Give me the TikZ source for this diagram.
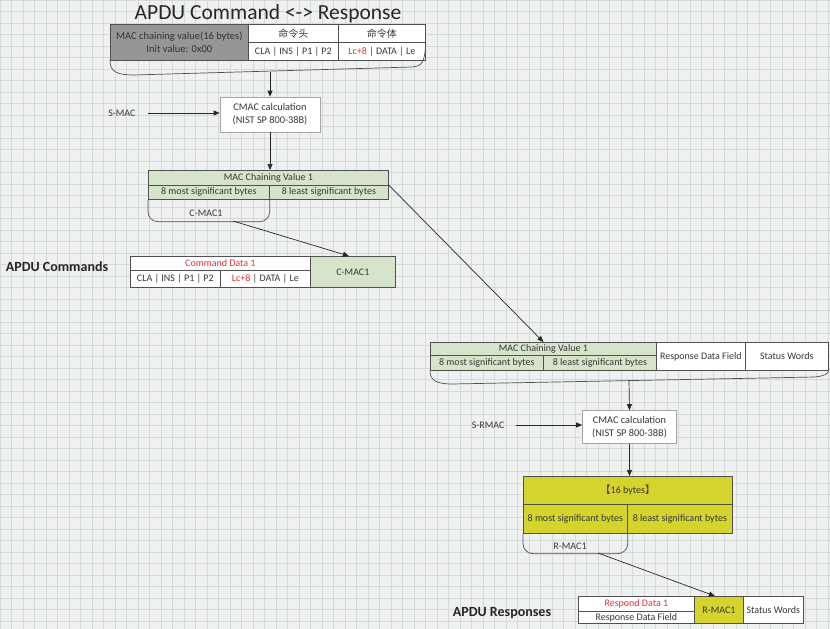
\documentclass[tikz,border=0pt]{standalone}
\usepackage{fontspec}
\setmainfont{Carlito}
\newfontfamily\cjk{Noto Sans CJK SC}
\usetikzlibrary{arrows.meta}
\definecolor{bgc}{RGB}{239,240,240}
\definecolor{gridc}{RGB}{214,217,217}
\definecolor{greenc}{RGB}{214,228,203}
\definecolor{darkc}{RGB}{150,150,150}
\definecolor{yelc}{RGB}{212,212,44}
\definecolor{txtc}{RGB}{55,55,55}
\definecolor{linec}{RGB}{80,80,80}
\definecolor{redc}{RGB}{225,50,50}
\begin{document}
\begin{tikzpicture}[x=1pt,y=-1pt,
  cell/.style={draw=linec, line width=0.7pt, anchor=north west, inner sep=0pt,
    text=txtc, font=\fontsize{10}{11.5}\selectfont, align=center, fill=white},
  calcbox/.style={draw=gray!70, line width=0.7pt, fill=white, text=txtc,
    font=\fontsize{10.3}{13}\selectfont, align=center, inner sep=0pt},
  lbl/.style={text=txtc, font=\fontsize{10}{11}\selectfont},
  biglbl/.style={text=black!85, font=\fontsize{14}{15}\selectfont\bfseries},
  arr/.style={draw=black!85, line width=0.7pt, -{Triangle[length=6pt,width=5pt]}},
  brk/.style={draw=linec, line width=0.7pt}]
\useasboundingbox (0,0) rectangle (830,629);
\fill[bgc] (0,0) rectangle (830,629);
\foreach \i in {0,...,72} {\draw[gridc, line width=0.4pt] (\i*11.5,0) -- (\i*11.5,629);}
\foreach \j in {0,...,55} {\draw[gridc, line width=0.4pt] (0,\j*11.5) -- (830,\j*11.5);}

% title
\node[text=black!85, font=\fontsize{21.5}{23}\selectfont] (title) at (268,14) {APDU Command <-> Response};

% top table
\node[cell, fill=darkc, minimum width=138pt, minimum height=36pt, text=black!80, font=\fontsize{10.5}{13}\selectfont] (mcv0) at (110,24) {MAC chaining value(16 bytes)\\Init value: 0x00};
\node[cell, minimum width=90pt, minimum height=18pt] (h1) at (248,24) {\cjk 命令头};
\node[cell, minimum width=87pt, minimum height=18pt] (h2) at (338,24) {\cjk 命令体};
\node[cell, minimum width=90pt, minimum height=18pt] (b1) at (248,42) {CLA | INS | P1 | P2};
\node[cell, minimum width=87pt, minimum height=18pt] (b2) at (338,42) {\textcolor{redc}{Lc+8} | DATA | Le};
\draw[brk] (mcv0.south west) .. controls (110,71) and (116,75) .. (134,75) -- (412,67) .. controls (421,66) and (425,64) .. (h2.south east);
\coordinate (topbr) at (270,72);

% CMAC 1
\node[calcbox, minimum width=100pt, minimum height=35pt] (cmac1) at (270,114.5) {CMAC calculation\\(NIST SP 800-38B)};
\node[lbl, anchor=east] (smac) at (139,113) {S-MAC};
\draw[arr] ([xshift=9pt]smac.east) -- (cmac1.west |- smac.east);
\draw[arr] (topbr) -- (cmac1.north);

% MAC chaining value 1
\node[cell, fill=greenc, minimum width=240pt, minimum height=15pt] (mcvh) at (148,170) {MAC Chaining Value 1};
\node[cell, fill=greenc, minimum width=121pt, minimum height=14pt] (mcvm) at (148,185) {8 most significant bytes};
\node[cell, fill=greenc, minimum width=119pt, minimum height=14pt] (mcvl) at (269,185) {8 least significant bytes};
\draw[arr] (cmac1.south) -- (mcvh.north -| cmac1.south);
\draw[brk, rounded corners=10pt] (mcvm.south west) -- ++(0,22) -| (mcvm.south east);
\node[lbl] (cmac1l) at (206,213) {C-MAC1};
\coordinate (cbr) at (233,221);

% APDU commands
\node[biglbl] (apduc) at (57,267) {APDU Commands};
\node[cell, minimum width=180pt, minimum height=14pt, text=redc] (cd) at (130,256) {Command Data 1};
\node[cell, minimum width=90pt, minimum height=17pt] (cd1) at (130,270) {CLA | INS | P1 | P2};
\node[cell, minimum width=90pt, minimum height=17pt] (cd2) at (220,270) {\textcolor{redc}{Lc+8} | DATA | Le};
\node[cell, fill=greenc, minimum width=85pt, minimum height=31pt] (cmdmac) at (310,256) {C-MAC1};
\draw[arr] (cbr) -- ([xshift=-4pt]cmdmac.north);

% response MAC chaining
\node[cell, fill=greenc, minimum width=226pt, minimum height=13pt] (rmcvh) at (430,342) {MAC Chaining Value 1};
\node[cell, fill=greenc, minimum width=113pt, minimum height=15pt] (rm) at (430,355) {8 most significant bytes};
\node[cell, fill=greenc, minimum width=113pt, minimum height=15pt] (rl) at (543,355) {8 least significant bytes};
\node[cell, minimum width=89pt, minimum height=28pt] (rdf) at (656,342) {Response Data Field};
\node[cell, minimum width=83pt, minimum height=28pt] (rsw) at (745,342) {Status Words};
\draw[arr] (mcvh.north east |- mcvl.north) -- (rmcvh.north);
\draw[brk] (rm.south west) .. controls (430,380) and (436,384) .. (452,384) -- (815,377) .. controls (824,376) and (828,374) .. (rsw.south east);
\coordinate (rbr) at (629,380);

% CMAC 2
\node[calcbox, minimum width=94pt, minimum height=33pt] (cmac2) at (629.5,427) {CMAC calculation\\(NIST SP 800-38B)};
\node[lbl, anchor=east] (srmac) at (508,425) {S-RMAC};
\draw[arr] ([xshift=8pt]srmac.east) -- (cmac2.west |- srmac.east);
\draw[arr] (rbr) -- (cmac2.north);

% yellow 16 bytes
\node[cell, fill=yelc, minimum width=209pt, minimum height=28pt] (yh) at (523,476) {{\cjk 【}16 bytes{\cjk 】}};
\node[cell, fill=yelc, minimum width=104pt, minimum height=29pt] (ym) at (523,504) {8 most significant bytes};
\node[cell, fill=yelc, minimum width=105pt, minimum height=29pt] (yl) at (627,504) {8 least significant bytes};
\draw[arr] (cmac2.south) -- (yh.north -| cmac2.south);
\draw[brk, rounded corners=10pt] (ym.south west) -- ++(0,20) -| (ym.south east);
\node[lbl] (rmac1l) at (570,546) {R-MAC1};
\coordinate (ybr) at (598,553);

% APDU responses
\node[biglbl] (apdur) at (502,613) {APDU Responses};
\node[cell, minimum width=116pt, minimum height=15pt, text=redc] (rd) at (578,596) {Respond Data 1};
\node[cell, minimum width=116pt, minimum height=12pt] (rdf2) at (578,611) {Response Data Field};
\node[cell, fill=yelc, minimum width=49pt, minimum height=27pt] (rmac) at (694,596) {R-MAC1};
\node[cell, minimum width=60pt, minimum height=27pt] (rsw2) at (743,596) {Status Words};
\draw[arr] (ybr) -- ([xshift=-4pt]rmac.north);
\end{tikzpicture}
\end{document}
